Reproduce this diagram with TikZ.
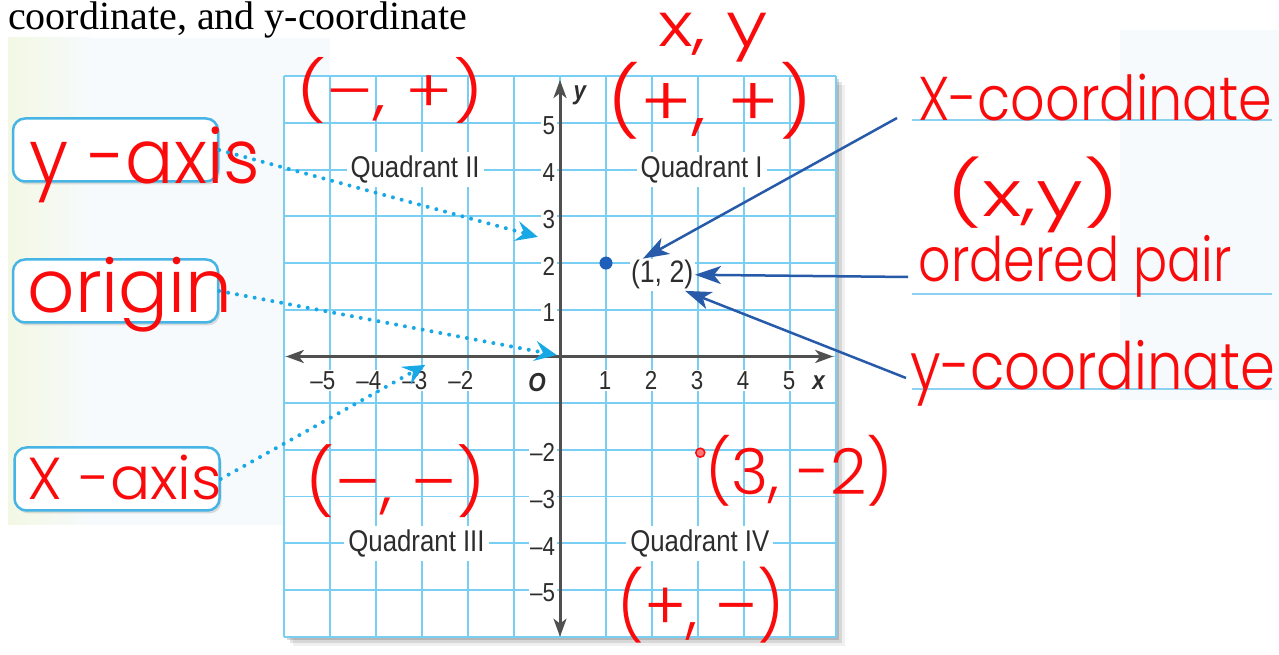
\documentclass[tikz,border=0pt]{standalone}
\usepackage{fontspec}
\usepackage{graphicx}
\setmainfont{Liberation Serif}
\setsansfont[FakeStretch=0.86]{Liberation Sans}
\newfontfamily\handfont{Poppins Light}
\usetikzlibrary{arrows.meta,positioning,calc,shadows}

\definecolor{gridcyan}{RGB}{120,206,243}
\definecolor{axisgray}{RGB}{80,80,80}
\definecolor{inkgray}{RGB}{45,45,45}
\definecolor{boxcyan}{RGB}{70,180,228}
\definecolor{dotcyan}{RGB}{25,168,230}
\definecolor{calloutblue}{RGB}{40,90,170}
\definecolor{pointblue}{RGB}{30,95,185}
\definecolor{handred}{RGB}{250,10,10}
\definecolor{rulecyan}{RGB}{140,210,240}
\definecolor{panelblue}{RGB}{246,250,252}
\definecolor{panelgreen}{RGB}{243,248,228}

% handwritten note fitted to a width and a total height (in px = pt)
\newcommand{\handtext}[3]{\resizebox*{#1pt}{#2pt}{\handfont #3}}

\begin{document}
\begin{tikzpicture}[
  x=1pt, y=1pt,
  every node/.style={font=\sffamily\fontsize{26}{28}\selectfont, text=inkgray},
  gridline/.style={gridcyan, line width=1.8pt},
  axisline/.style={axisgray, line width=3pt, {Stealth[length=18pt,width=13pt,inset=5pt]}-{Stealth[length=18pt,width=13pt,inset=5pt]}},
  ticklbl/.style={fill=white, inner sep=1.5pt},
  quadlbl/.style={fill=white, inner sep=4pt, font=\sffamily\fontsize{30}{32}\selectfont},
  axisname/.style={font=\sffamily\bfseries\itshape\fontsize{26}{28}\selectfont, inner sep=1pt},
  calloutbox/.style={draw=boxcyan, line width=2.5pt, rounded corners=12pt, fill=white, minimum width=205pt, minimum height=63pt, drop shadow={opacity=0.25, shadow xshift=2pt, shadow yshift=-3pt}},
  hand/.style={inner sep=0pt, text=handred},
  pointer/.style={dotcyan, line width=4pt, line cap=round, dash pattern=on 0pt off 9pt, -{Stealth[length=22pt,width=20pt,inset=8pt]}},
  callout/.style={calloutblue, line width=2.5pt, -{Stealth[length=26pt,width=18pt,inset=7pt]}},
  underline/.style={rulecyan, line width=2.2pt}
]
\useasboundingbox (0,0) rectangle (1279,655);
\fill[white] (0,0) rectangle (1279,655);
% page panels
\fill[panelblue] (8,130) rectangle (330,617);
\fill[left color=panelgreen, right color=panelblue] (8,130) rectangle (90,617);
\fill[panelblue] (1120,255) rectangle (1279,625);

\node[anchor=base west, inner sep=0pt, font=\rmfamily\fontsize{40}{40}\selectfont, text=black] (caption) at (8,625) {coordinate, and y-coordinate};

% coordinate plane
\begin{scope}[shift={(560,298.5)}, x=46pt, y=46.7pt]
  \foreach \sh/\op in {9/0.06,6/0.1,3/0.15}
    \fill[black, opacity=\op] ($(-6,-6)+(\sh pt,-\sh pt)$) rectangle ($(6,6)+(\sh pt,-\sh pt)$);
  \fill[white] (-6,-6) rectangle (6,6);
  \foreach \g in {-6,...,6} {
    \draw[gridline] (\g,-6) -- (\g,6);
    \draw[gridline] (-6,\g) -- (6,\g);
  }

  \node[quadlbl] (quad2) at (-3.15,4) {Quadrant II};
  \node[quadlbl] (quad1) at (3.08,4) {Quadrant I};
  \node[quadlbl] (quad3) at (-3.12,-4) {Quadrant III};
  \node[quadlbl] (quad4) at (3.04,-4) {Quadrant IV};

  \foreach \y in {1,...,5} \node[ticklbl, anchor=east, yshift=-3pt] (yt\y) at (-0.07,\y) {\y};
  \foreach \y in {2,...,5} \node[ticklbl, anchor=east, yshift=-3pt] (ytm\y) at (-0.07,-\y) {–\y};
  \foreach \x in {1,...,5} \node[ticklbl, anchor=east] (xt\x) at (\x+0.15,-0.52) {\x};
  \foreach \x in {2,...,5} \node[ticklbl, anchor=east] (xtm\x) at (-\x+0.15,-0.52) {–\x};

  \draw[axisline] (-5.96,0) -- (5.94,0);
  \draw[axisline] (0,-6) -- (0,5.92);
  \node[axisname, fill=white] (orig) at (-0.5,-0.56) {O};
  \node[axisname] (xname) at (5.62,-0.56) {x};
  \node[axisname] (yname) at (0.43,5.6) {y};

  \node[circle, fill=pointblue, inner sep=0pt, minimum size=13pt] (pt12) at (1,2) {};
  \node[ticklbl, font=\sffamily\fontsize{31}{33}\selectfont] (lbl12) at (2.22,1.75) {(1, 2)};
  \node[circle, draw=handred, fill=handred!55, line width=1.5pt, inner sep=0pt, minimum size=9pt] (pt3m2) at (3.05,-2.06) {};

  \coordinate (yaxtip) at (-0.48,2.56);
  \coordinate (origtip) at (-0.07,0.03);
  \coordinate (xaxtip) at (-2.93,-0.18);
\end{scope}

% left call-outs
\node[calloutbox] (yaxbox) at (115.5,505) {};
\node[calloutbox] (origbox) at (115.5,364) {};
\node[calloutbox] (xaxbox) at (117,176) {};
\node[hand] (yaxtxt) at (145,490) {\handtext{230}{76}{y -axis}};
\node[hand] (origtxt) at (130,360) {\handtext{205}{75}{origin}};
\node[hand] (xaxtxt) at (125,178) {\handtext{194}{45}{X -axis}};

\draw[pointer] (yaxbox.east) -- (yaxtip);
\draw[pointer] (origbox.east) -- (origtip);
\draw[pointer] (xaxbox.east) -- (xaxtip);

% right notes
\draw[underline] (912,535) -- (1272,535);
\draw[underline] (912,361) -- (1272,361);
\draw[underline] (912,266) -- (1272,266);
\node[hand] (xcoord) at (1095,557) {\handtext{354}{47}{X-coordinate}};
\node[hand] (pairxy) at (1033,460) {\handtext{173}{76}{(x,y)}};
\node[hand] (ordpair) at (1075,389) {\handtext{313}{62}{ordered pair}};
\node[hand] (ycoord) at (1093,282) {\handtext{365}{66}{y-coordinate}};

\coordinate (xtail) at (897,537);
\coordinate (ptail) at (908,378);
\coordinate (ytail) at (906,277);
\draw[callout] (xtail) -- (lbl12.140);
\draw[callout] (ptail) -- (lbl12.east);
\draw[callout] (ytail) -- (lbl12.-35);

% signs of the quadrants
\node[hand] (xylbl) at (713,617) {\handtext{110}{49}{x, y}};
\node[hand] (q1sign) at (710,554) {\handtext{205}{77}{(+, +)}};
\node[hand] (q2sign) at (390,565) {\handtext{187}{66}{(–, +)}};
\node[hand] (q3sign) at (396,174) {\handtext{180}{73}{(–, –)}};
\node[hand] (q4sign) at (701,50) {\handtext{167}{76}{(+, –)}};
\node[hand] (pt3lbl) at (799,184) {\handtext{188}{71}{(3, -2)}};
\end{tikzpicture}
\end{document}
